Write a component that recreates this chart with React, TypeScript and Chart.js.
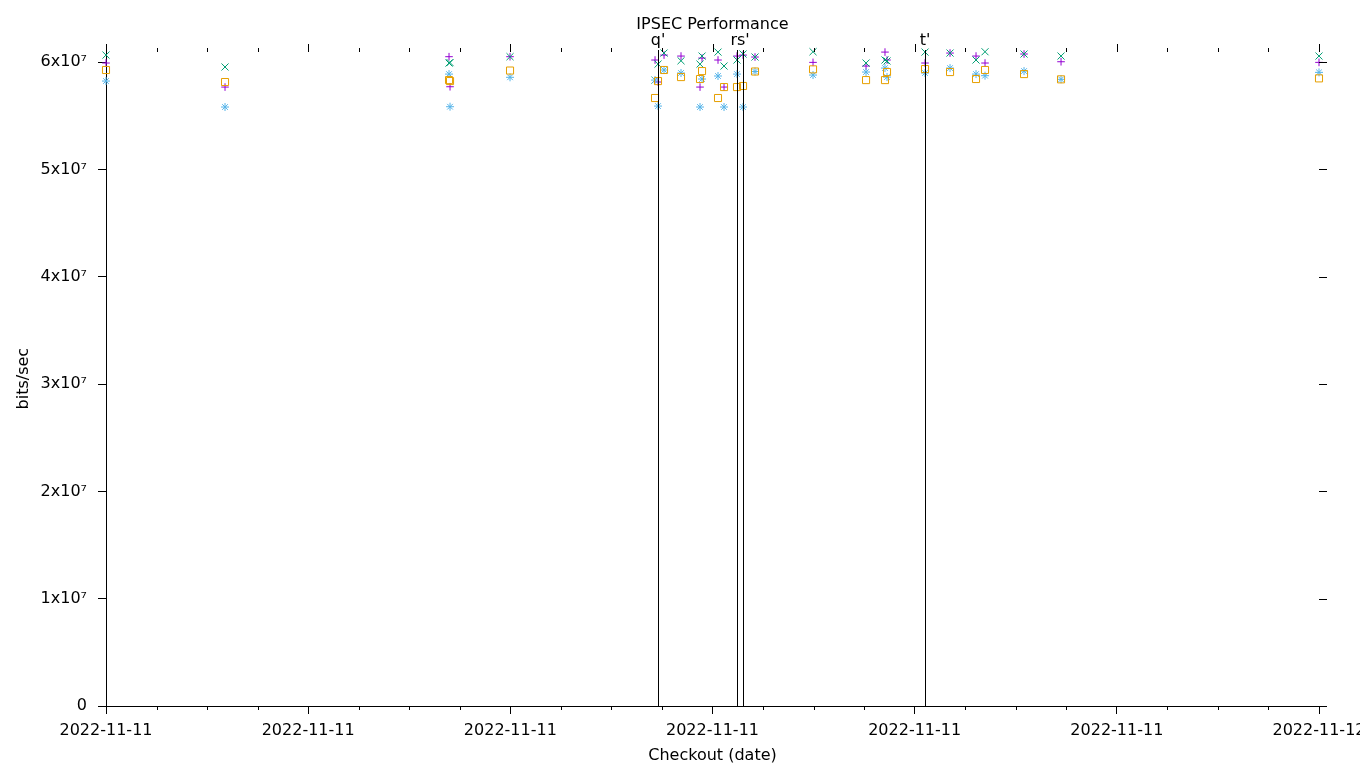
import React, { useEffect, useRef } from 'react';
import { Chart, registerables } from 'chart.js';

Chart.register(...registerables);

// Checkout times (hours after 2022-11-11 00:00)
const timesH = [0, 2.355, 6.787, 6.807, 7.994, 10.863, 10.922, 11.041, 11.377, 11.753, 11.793, 12.109, 12.228, 12.485, 12.604, 12.841, 13.989, 15.038, 15.413, 15.453, 16.205, 16.7, 17.214, 17.392, 18.164, 18.896, 24.0];

// Throughput series, in units of 1e7 bits/sec
const series1 = [5.991, 5.767, 6.05, 5.77, 6.05, 6.019, 5.814, 6.065, 6.056, 5.767, 6.037, 6.019, 5.767, 6.056, 6.065, 6.047, 5.997, 5.963, 6.093, 6.019, 5.991, 6.084, 6.056, 5.991, 6.075, 6.003, 5.997];
const series2 = [6.065, 5.954, 5.991, 5.995, 6.05, 5.832, 5.981, 6.084, 6.012, 5.981, 6.056, 6.093, 5.963, 6.019, 6.075, 6.047, 6.096, 5.991, 6.019, 6.01, 6.093, 6.084, 6.019, 6.096, 6.075, 6.056, 6.056];
const series3 = [5.823, 5.581, 5.888, 5.584, 5.858, 5.832, 5.59, 5.926, 5.898, 5.581, 5.842, 5.87, 5.581, 5.888, 5.581, 5.912, 5.879, 5.907, 5.944, 5.86, 5.898, 5.944, 5.888, 5.873, 5.916, 5.839, 5.904];
const series4 = [5.926, 5.814, 5.832, 5.823, 5.921, 5.665, 5.823, 5.926, 5.86, 5.842, 5.916, 5.665, 5.767, 5.767, 5.777, 5.912, 5.932, 5.832, 5.832, 5.907, 5.935, 5.907, 5.842, 5.926, 5.888, 5.839, 5.848];

const xTickValues = [0, 4, 8, 12, 16, 20, 24];
const xTickLabels = ['2022-11-11', '2022-11-11', '2022-11-11', '2022-11-11', '2022-11-11', '2022-11-11', '2022-11-12'];
const yTickValues = [0, 1e7, 2e7, 3e7, 4e7, 5e7, 6e7];
const yTickLabels = ['0', '1x10⁷', '2x10⁷', '3x10⁷', '4x10⁷', '5x10⁷', '6x10⁷'];

// Marker lines (hours) and their labels
const eventTimes = [10.922, 12.485, 12.604, 16.205];
const eventLabels = ["q'", "rs'", "t'"];
const eventLabelTimes = [10.922, 12.545, 16.205];

const titleText = 'IPSEC Performance';
const FONT = '"DejaVu Sans", sans-serif';

const toPoints = (arr: number[]) => timesH.map((t, i) => ({ x: t, y: arr[i] * 1e7 }));

const extrasPlugin = {
  id: 'extras',
  afterDraw(chart: any) {
    const { ctx, chartArea: a, scales } = chart;
    const x = scales.x;
    const y = scales.y;
    const al = (v: number) => Math.round(v) + 0.5;
    ctx.save();
    ctx.strokeStyle = '#000';
    ctx.lineWidth = 1;
    ctx.beginPath();
    // minor ticks on bottom, all ticks mirrored on top
    for (let h = x.min; h <= x.max + 1e-9; h += 1) {
      const px = al(x.getPixelForValue(h));
      const major = Math.abs(h % 4) < 1e-9;
      if (!major) {
        ctx.moveTo(px, a.bottom);
        ctx.lineTo(px, a.bottom + 4);
      }
      ctx.moveTo(px, Math.round(a.top) + 1);
      ctx.lineTo(px, Math.round(a.top) + 1 - (major ? 8 : 4));
    }
    // mirrored y ticks on right
    y.ticks.forEach((t: any) => {
      const py = al(y.getPixelForValue(t.value));
      ctx.moveTo(Math.round(a.right), py);
      ctx.lineTo(Math.round(a.right) + 8, py);
    });
    // event lines
    eventTimes.forEach((t) => {
      const px = al(x.getPixelForValue(t));
      ctx.moveTo(px, Math.round(a.top) - 1);
      ctx.lineTo(px, a.bottom);
    });
    ctx.stroke();

    ctx.fillStyle = '#000';
    ctx.font = `16px ${FONT}`;
    ctx.textAlign = 'center';
    ctx.textBaseline = 'alphabetic';
    eventLabels.forEach((lab, i) => {
      ctx.fillText(lab, x.getPixelForValue(eventLabelTimes[i]), 44.5);
    });
    ctx.fillText(titleText, (a.left + a.right) / 2, 29);
    ctx.restore();
  },
};

export default function App() {
  const ref = useRef<HTMLCanvasElement>(null);

  useEffect(() => {
    if (!ref.current) return;
    Chart.defaults.font.family = FONT;
    Chart.defaults.font.size = 16;
    Chart.defaults.color = '#000';

    const mk = (label: string, arr: number[], color: string, style: string, radius: number, order: number) => ({
      label,
      data: toPoints(arr),
      pointStyle: style,
      pointRadius: radius,
      pointHoverRadius: radius,
      pointBorderColor: color,
      pointBackgroundColor: 'rgba(0,0,0,0)',
      pointBorderWidth: 1,
      borderColor: color,
      backgroundColor: 'rgba(0,0,0,0)',
      showLine: false,
      clip: false as any,
      order,
    });

    const chart = new Chart(ref.current, {
      type: 'scatter',
      data: {
        datasets: [
          mk('series 1', series1, '#9400d3', 'cross', 3.8, 4),
          mk('series 2', series2, '#009e73', 'crossRot', 5, 3),
          mk('series 3', series3, '#56b4e9', 'star', 4, 2),
          mk('series 4', series4, '#e69f00', 'rect', 5, 1),
        ] as any,
      },
      options: {
        responsive: false,
        animation: false,
        events: [],
        layout: { padding: { top: 51.33, right: 41, bottom: 0, left: 0 } },
        plugins: {
          legend: { display: false },
          tooltip: { enabled: false },
          title: { display: false },
        },
        scales: {
          x: {
            type: 'linear',
            min: 0,
            max: 24,
            afterBuildTicks: (s: any) => {
              s.ticks = xTickValues.map((v) => ({ value: v }));
            },
            afterFit: (s: any) => {
              s.height = 62;
              s.paddingLeft = 0;
              s.paddingRight = 0;
            },
            ticks: {
              autoSkip: false,
              maxRotation: 0,
              minRotation: 0,
              padding: 7,
              font: { size: 16, family: FONT },
              color: '#000',
              callback: (v: any) => xTickLabels[xTickValues.indexOf(Number(v))] ?? '',
            },
            grid: { display: true, drawOnChartArea: false, drawTicks: true, tickLength: 8, color: '#000', lineWidth: 1 },
            border: { display: true, color: '#000', width: 1 },
            title: { display: true, text: 'Checkout (date)', font: { size: 16, family: FONT }, color: '#000', padding: { top: 0, bottom: 2.5 } },
          },
          y: {
            type: 'linear',
            min: 0,
            max: 6.1e7,
            afterBuildTicks: (s: any) => {
              s.ticks = yTickValues.map((v) => ({ value: v }));
            },
            afterFit: (s: any) => {
              s.width = 106;
              s.paddingTop = 0;
              s.paddingBottom = 0;
            },
            ticks: {
              padding: 11,
              font: { size: 16, family: FONT },
              color: '#000',
              callback: (v: any) => yTickLabels[yTickValues.indexOf(Number(v))] ?? '',
            },
            grid: { display: true, drawOnChartArea: false, drawTicks: true, tickLength: 8, color: '#000', lineWidth: 1 },
            border: { display: true, color: '#000', width: 1 },
            title: { display: true, text: 'bits/sec', font: { size: 16, family: FONT }, color: '#000', padding: { top: 14, bottom: 0 } },
          },
        },
      } as any,
      plugins: [extrasPlugin],
    });
    return () => chart.destroy();
  }, []);

  return (
    <div style={{ position: 'absolute', left: 0, top: 0, width: 1360, height: 768, background: '#fff' }}>
      <canvas ref={ref} width={1360} height={768} style={{ width: 1360, height: 768, display: 'block' }} />
    </div>
  );
}
